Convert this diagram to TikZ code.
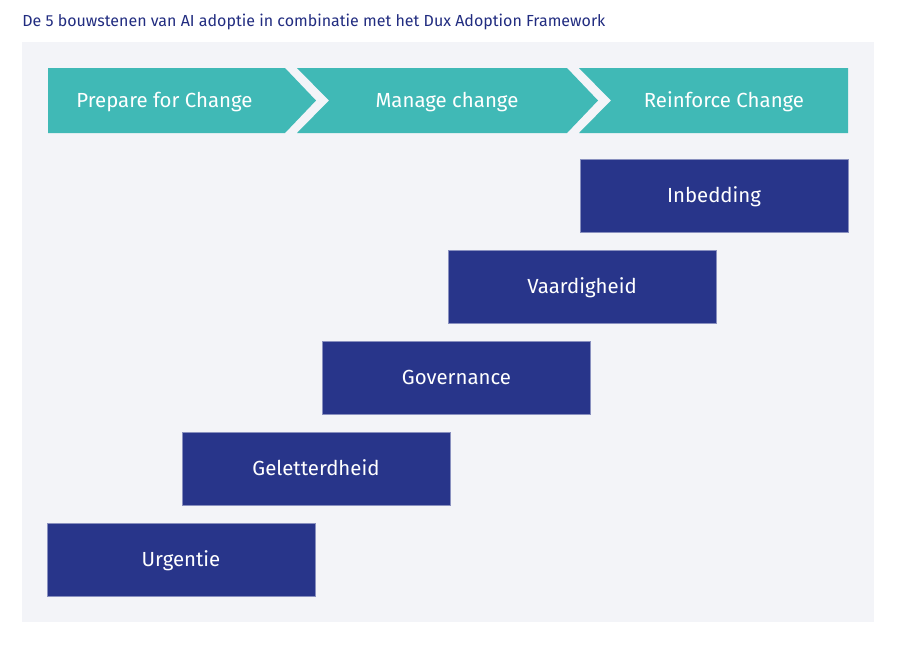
\documentclass[tikz,border=0pt]{standalone}
\usepackage{fontspec}
\setmainfont{Fira Sans}
\usetikzlibrary{positioning, calc}
\usepackage{xcolor}
\definecolor{phaseteal}{RGB}{64,185,182}
\definecolor{blocknavy}{RGB}{40,53,138}
\definecolor{titleblue}{RGB}{33,44,128}
\definecolor{panelgrey}{RGB}{243,244,248}

\tikzset{
  phaselabel/.style={text=white, font=\fontsize{15.3}{17}\selectfont,
    text height=0.69em, text depth=0pt, yshift=-1.5pt},
  buildblock/.style={fill=blocknavy, draw=blocknavy!55!white, line width=0.6pt,
    minimum width=268*0.75pt, minimum height=73*0.75pt, inner sep=0pt},
  blocklabel/.style={text=white, font=\fontsize{15.3}{17}\selectfont,
    text height=0.69em, text depth=0pt, yshift=-1.5pt}
}

\begin{document}
\begin{tikzpicture}[x=0.75pt, y=-0.75pt]
  \useasboundingbox (0,0) rectangle (900,644);
  \def\top{68}\def\bot{133}\def\mid{100.5}

  % title and panel
  \node[anchor=west, text=titleblue, font=\fontsize{12}{14}\selectfont, inner sep=0pt] (title) at (22,22) {De 5 bouwstenen van AI adoptie in combinatie met het Dux Adoption Framework};
  \fill[panelgrey] (22,42) rectangle (874,622);

  % phases -- chevron band
  \fill[phaseteal] (48,\top) -- (285,\top) -- (316,\mid) -- (285,\bot) -- (48,\bot) -- cycle;
  \fill[phaseteal] (297,\top) -- (567,\top) -- (598,\mid) -- (567,\bot) -- (297,\bot) -- (329,\mid) -- cycle;
  \fill[phaseteal] (579,\top) -- (848,\top) -- (848,\bot) -- (579,\bot) -- (611,\mid) -- cycle;
  \node[phaselabel] (prepare) at (164.5,\mid) {Prepare for Change};
  \node[phaselabel] (manage) at (447,\mid) {Manage change};
  \node[phaselabel] (reinforce) at (724,\mid) {Reinforce Change};

  % building blocks -- staircase
  \node[buildblock] (inbedding) at (714,195.5) {};
  \node[buildblock] (vaardigheid) at (582,286.5) {};
  \node[buildblock] (governance) at (456.5,377.5) {};
  \node[buildblock] (geletterdheid) at (316,468.5) {};
  \node[buildblock] (urgentie) at (181,559.5) {};
  \node[blocklabel] (inbedding-txt) at (inbedding) {Inbedding};
  \node[blocklabel] (vaardigheid-txt) at (vaardigheid) {Vaardigheid};
  \node[blocklabel] (governance-txt) at (governance) {Governance};
  \node[blocklabel] (geletterdheid-txt) at (geletterdheid) {Geletterdheid};
  \node[blocklabel] (urgentie-txt) at (urgentie) {Urgentie};

\end{tikzpicture}
\end{document}
